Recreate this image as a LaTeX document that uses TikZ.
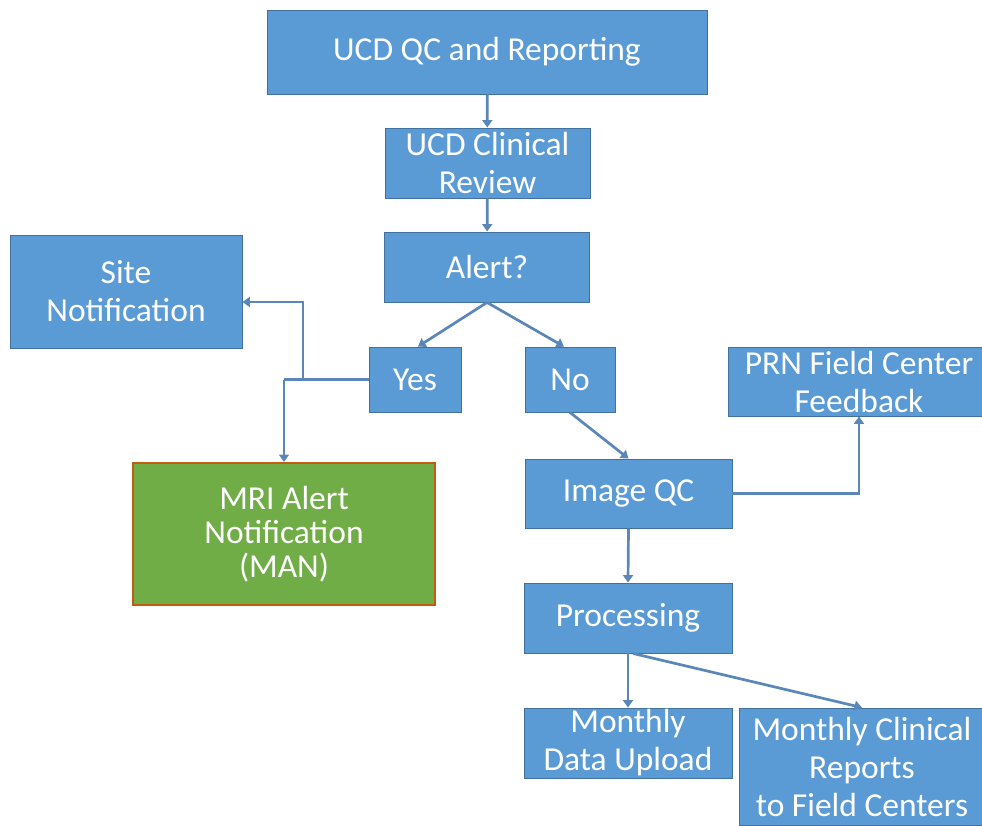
\documentclass[tikz,border=0pt]{standalone}
\usepackage{fontspec}
\setmainfont{Carlito}
\usetikzlibrary{arrows.meta,calc}
\definecolor{boxblue}{RGB}{91,155,213}
\definecolor{boxedge}{RGB}{65,113,156}
\definecolor{mangreen}{RGB}{112,173,71}
\definecolor{manedge}{RGB}{197,90,17}
\definecolor{arrowc}{RGB}{91,134,184}
\begin{document}
\begin{tikzpicture}[x=1pt,y=-1pt,
  box/.style={draw=boxedge, line width=0.9pt, fill=boxblue, text=white,
    inner sep=0pt, align=center, font=\fontsize{33.5}{38}\selectfont},
  manbox/.style={box, draw=manedge, line width=2pt, fill=mangreen,
    font=\fontsize{33.5}{34}\selectfont},
  arr/.style={draw=arrowc, line width=2.7pt, -{Triangle[width=10pt,length=7.5pt]}},
  link/.style={draw=arrowc, line width=2.7pt}]
\useasboundingbox (0,0) rectangle (982,825);

\node[box, minimum width=440pt, minimum height=84pt] (top) at (487,52) {UCD QC and Reporting};
\node[box, minimum width=205pt, minimum height=70pt] (clin) at (487.5,163) {UCD Clinical\\Review};
\node[box, minimum width=205pt, minimum height=70pt] (alert) at (487,267) {Alert?};
\node[box, minimum width=232pt, minimum height=113pt] (site) at (126,291.5) {Site\\Notification};
\node[box, minimum width=92pt, minimum height=65pt] (yes) at (415,379.5) {Yes};
\node[box, minimum width=90pt, minimum height=65pt] (no) at (570,379.5) {No};
\node[box, minimum width=262pt, minimum height=69pt] (prn) at (859,381.5) {PRN Field Center\\Feedback};
\node[manbox, minimum width=302pt, minimum height=142pt] (mri) at (284,534) {MRI Alert\\Notification\\(MAN)};
\node[box, minimum width=207pt, minimum height=69pt] (iqc) at (628.5,493.5) {Image QC};
\node[box, minimum width=208pt, minimum height=70pt] (proc) at (628,618) {Processing};
\node[box, minimum width=208pt, minimum height=70pt] (mdu) at (628,743) {Monthly\\Data Upload};
\node[box, minimum width=246pt, minimum height=117pt] (mcr) at (862,766.5) {Monthly Clinical\\Reports\\to Field Centers};

\coordinate (k) at (mri.north |- yes.west);
\coordinate (j) at ([xshift=19pt]k);
\coordinate (sn) at ([yshift=-10.5pt]site.east);

\draw[arr] (top) -- (clin);
\draw[arr] (clin) -- (alert);
\draw[arr] (alert.south) -- ([xshift=3pt]yes.north);
\draw[arr] (alert.south) -- ([xshift=-6pt]no.north);
\draw[link] (yes.west) -- (k);
\draw[arr] (k) -- (mri.north);
\draw[arr] (j) |- (sn);
\draw[arr] (no.south) -- (iqc.north);
\draw[arr] (iqc.east) -| (prn.south);
\draw[arr] (iqc.south) -- (proc.north);
\draw[arr] (proc.south) -- (mdu.north);
\draw[arr] ([xshift=5pt]proc.south) -- (mcr.north);
\end{tikzpicture}
\end{document}
